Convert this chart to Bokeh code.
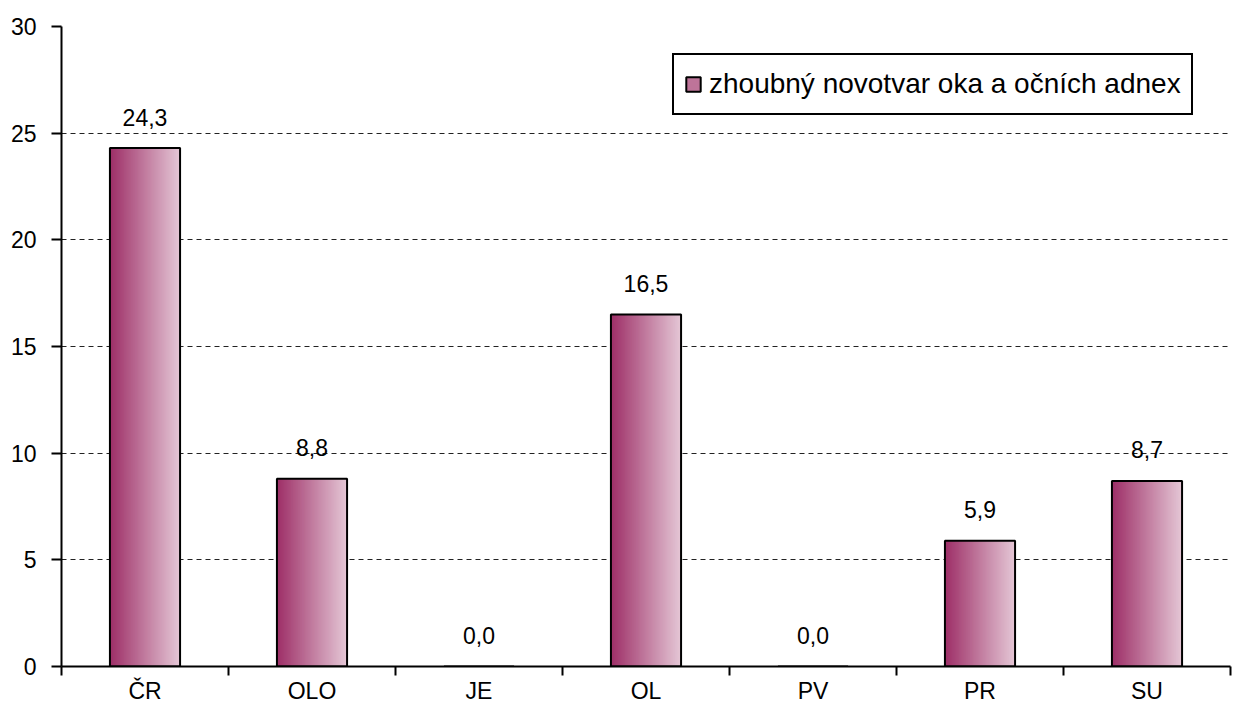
from bokeh.plotting import figure
from bokeh.models import (ColumnDataSource, FixedTicker, Legend, LegendItem, Range1d)
from bokeh.core.properties import value
from bokeh.embed import file_html
from bokeh.resources import INLINE

# ---- data ----
categories = ["ČR", "OLO", "JE", "OL", "PV", "PR", "SU"]
values = [24.3, 8.8, 0.0, 16.5, 0.0, 5.9, 8.7]
series_name = "zhoubný novotvar oka a očních adnex"
y_ticks = [0, 5, 10, 15, 20, 25, 30]

# ---- style ----
FONT = "Liberation Sans"
BAR_W = 0.42
N_SLICES = 60
C_LEFT = (158, 48, 104)
C_RIGHT = (228, 198, 213)


def lerp_color(t):
    r = round(C_LEFT[0] + (C_RIGHT[0] - C_LEFT[0]) * t)
    g = round(C_LEFT[1] + (C_RIGHT[1] - C_LEFT[1]) * t)
    b = round(C_LEFT[2] + (C_RIGHT[2] - C_LEFT[2]) * t)
    return "#%02x%02x%02x" % (r, g, b)


centers = [i + 0.5 for i in range(len(categories))]

# gradient slices (each slice overlaps the next to avoid seams)
sl, sr, stop, scol = [], [], [], []
sw = BAR_W / N_SLICES
for c, v in zip(centers, values):
    left0 = c - BAR_W / 2
    right_end = c + BAR_W / 2
    for k in range(N_SLICES):
        l = left0 + k * sw
        sl.append(l)
        sr.append(min(l + 3 * sw, right_end))
        stop.append(v)
        scol.append(lerp_color(k / (N_SLICES - 1)))
slices = ColumnDataSource(dict(left=sl, right=sr, top=stop, color=scol))
bars = ColumnDataSource(dict(x=centers, top=values,
                             label=[("%.1f" % v).replace(".", ",") for v in values]))

p = figure(width=1233, height=713, output_backend="svg", toolbar_location=None,
           x_range=Range1d(0, len(categories)), y_range=Range1d(0, 30),
           min_border_left=61, min_border_right=3, min_border_top=26, min_border_bottom=47)
p.outline_line_color = None
p.background_fill_color = "white"
p.border_fill_color = "white"

p.quad(left="left", right="right", top="top", bottom=0, source=slices,
       fill_color="color", line_color=None)
p.vbar(x="x", top="top", width=BAR_W, bottom=0, source=bars,
       fill_color=None, line_color="black", line_width=2)

p.text(x="x", y="top", text="label", source=bars, text_align="center",
       text_baseline="middle", y_offset=-31, text_font=value(FONT),
       text_font_size="23px", text_color="black")

# legend swatch renderer (zero size in plot)
leg_r = p.vbar(x=[0.5], top=[0], bottom=[0], width=0,
               fill_color=lerp_color(0.45), line_color="black", line_width=2)

legend = Legend(items=[LegendItem(label=series_name, renderers=[leg_r])],
                location=(611, 551), orientation="vertical")
legend.label_text_font = FONT
legend.label_text_font_size = "28px"
legend.label_text_color = "black"
legend.glyph_width = 18
legend.glyph_height = 18
legend.label_standoff = 7
legend.padding = 10
legend.label_height = 38
legend.border_line_color = "black"
legend.border_line_width = 2
legend.border_line_alpha = 1
legend.background_fill_color = "white"
legend.background_fill_alpha = 1
legend.margin = 0
p.add_layout(legend)

# axes
p.xaxis.ticker = FixedTicker(ticks=centers, minor_ticks=list(range(len(categories) + 1)))
p.xaxis.major_label_overrides = {c: cat for c, cat in zip(centers, categories)}
p.xaxis.major_tick_out = 0
p.xaxis.major_tick_in = 0
p.xaxis.minor_tick_out = 9
p.xaxis.minor_tick_in = 0
p.xaxis.minor_tick_line_color = "black"
p.xaxis.minor_tick_line_width = 2
p.xaxis.axis_line_width = 2
p.xaxis.axis_line_color = "black"
p.xaxis.major_label_standoff = 2
p.xaxis.major_label_text_font = FONT
p.xaxis.major_label_text_font_size = "23px"
p.xaxis.major_label_text_color = "black"

p.yaxis.ticker = FixedTicker(ticks=y_ticks)
p.yaxis.major_tick_out = 10
p.yaxis.major_tick_in = 0
p.yaxis.minor_tick_out = 0
p.yaxis.minor_tick_in = 0
p.yaxis.major_tick_line_width = 2
p.yaxis.major_tick_line_color = "black"
p.yaxis.axis_line_width = 2
p.yaxis.axis_line_color = "black"
p.yaxis.major_label_standoff = 15
p.yaxis.major_label_text_font = FONT
p.yaxis.major_label_text_font_size = "23px"
p.yaxis.major_label_text_color = "black"

p.xgrid.grid_line_color = None
p.ygrid.ticker = FixedTicker(ticks=y_ticks[1:-1])
p.ygrid.grid_line_color = "#222222"
p.ygrid.grid_line_width = 1
p.ygrid.grid_line_dash = "5 4"

open("out.html", "w").write(file_html(p, INLINE))
